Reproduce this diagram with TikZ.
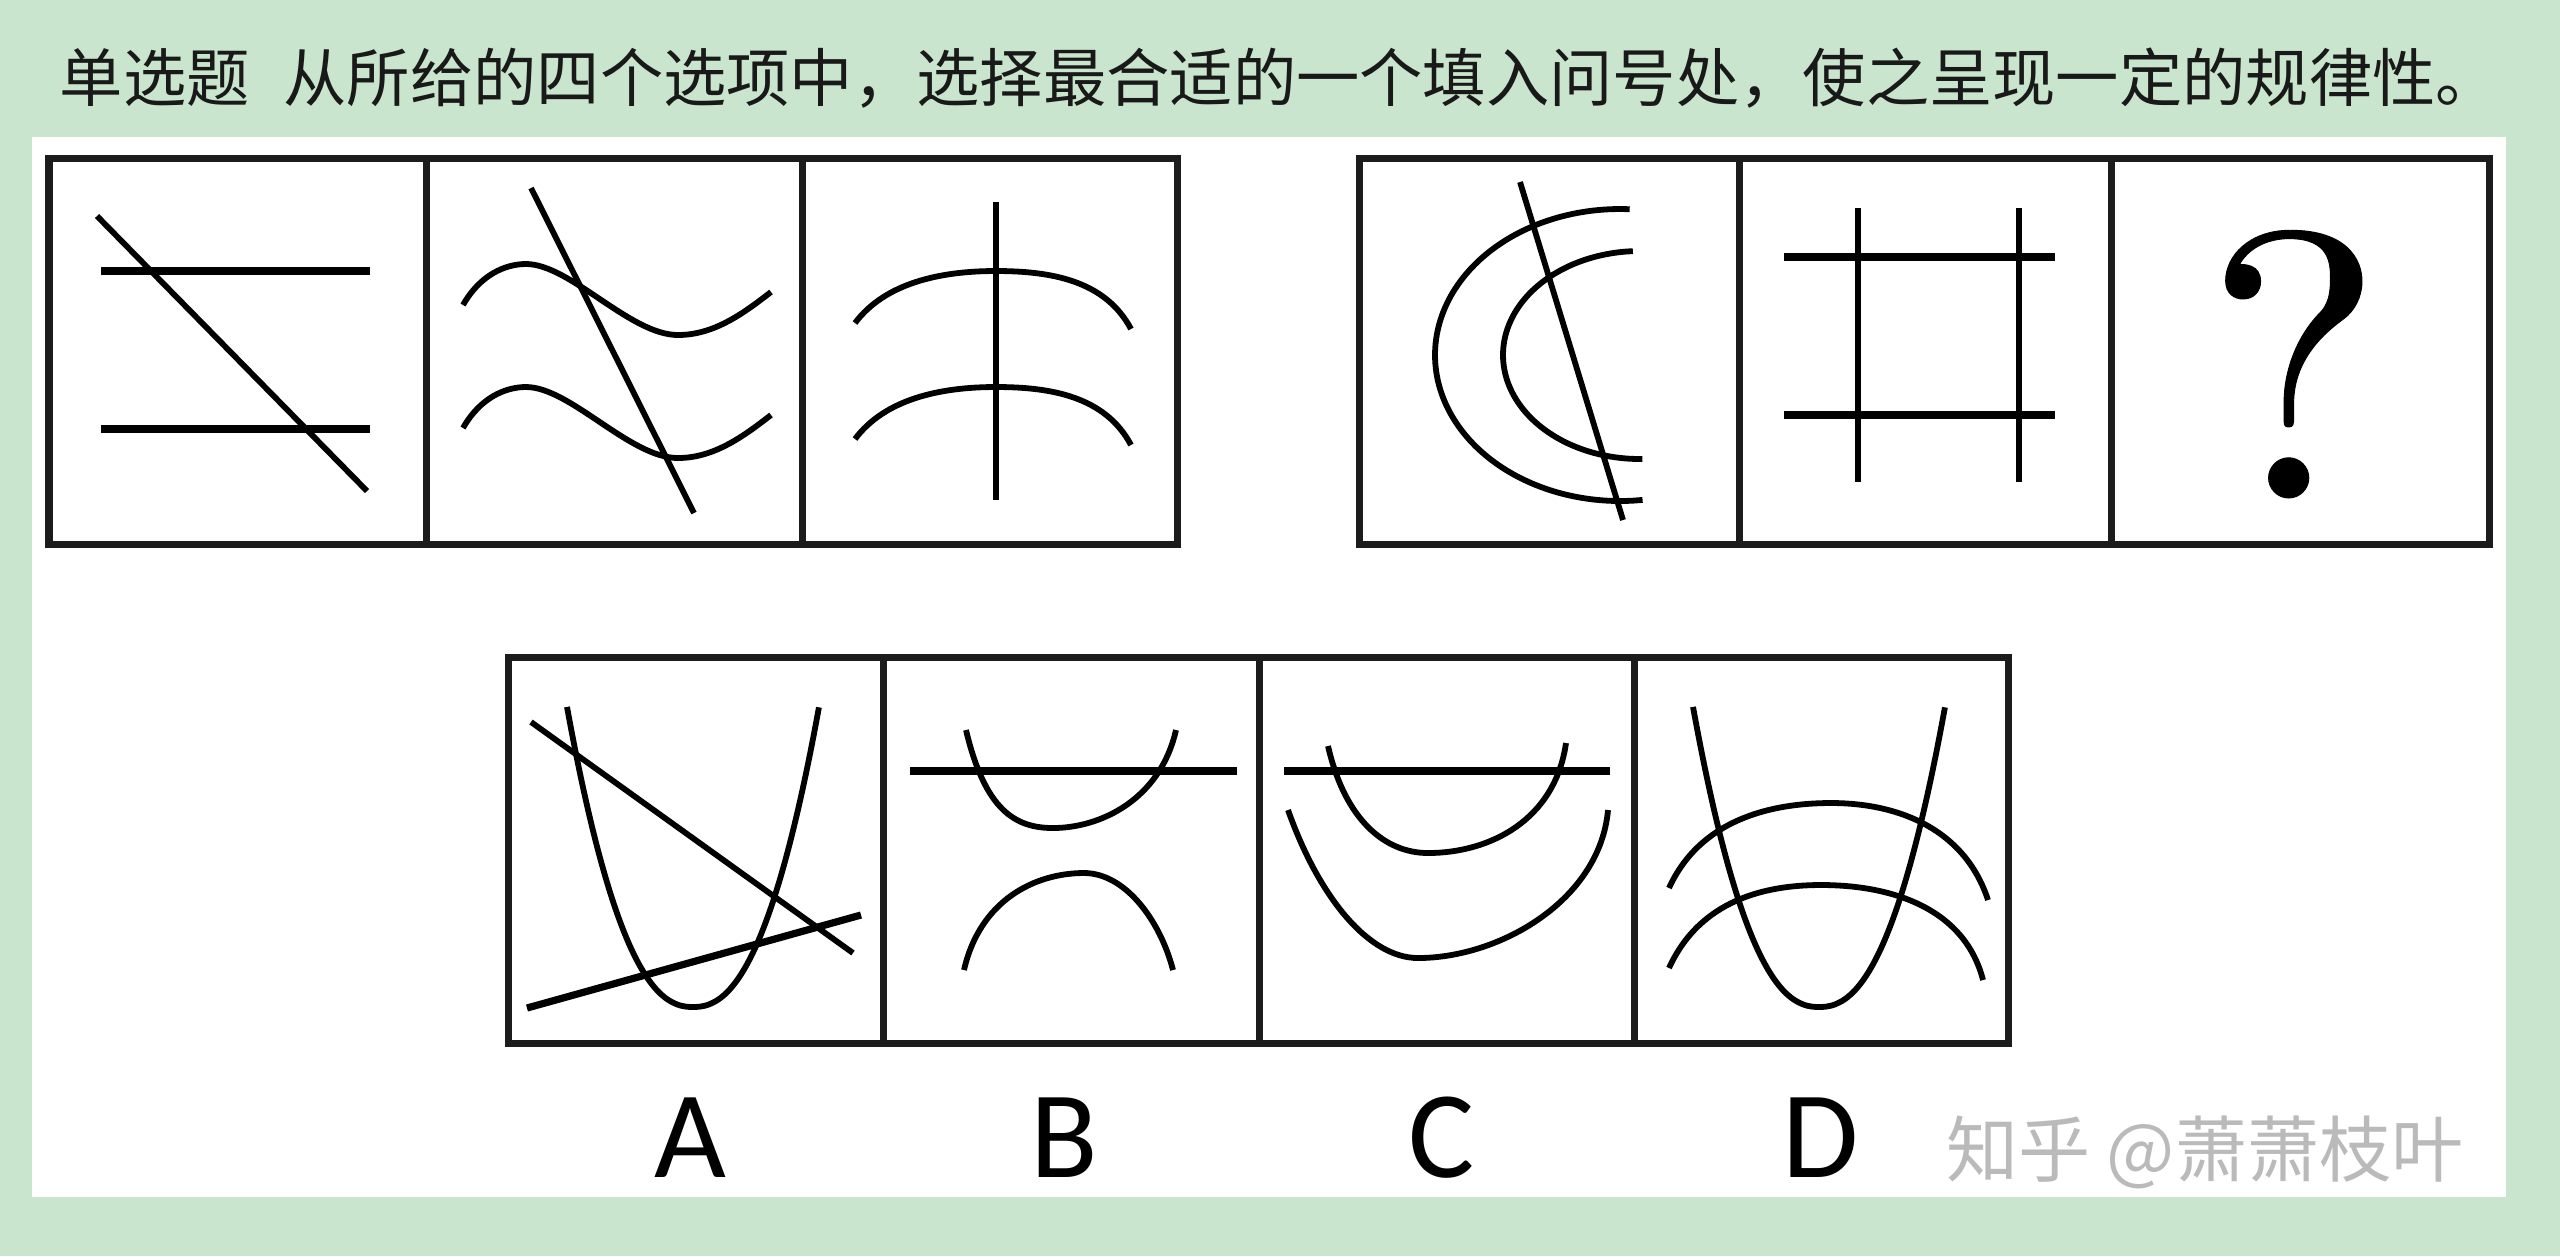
\documentclass[tikz,border=0pt]{standalone}
\usepackage{fontspec}
\newfontfamily\cjkfont{Noto Sans CJK SC}
\newfontfamily\labfont{Carlito}
\newfontfamily\qfont{lmroman10-regular.otf}[FakeBold=0.25]
\definecolor{bggreen}{RGB}{202,229,205}
\definecolor{wmgray}{RGB}{186,186,186}
\definecolor{framec}{RGB}{28,28,28}
\definecolor{titlec}{RGB}{25,25,25}
\begin{document}
\begin{tikzpicture}[x=0.01cm,y=-0.01cm,
  panelframe/.style={draw=framec,line width=0.07cm,line join=miter},
  figline/.style={draw=black,line width=0.058cm},
  figthick/.style={draw=black,line width=0.072cm},
  optlabel/.style={anchor=base,inner sep=0pt,font=\labfont\fontsize{35.3pt}{40pt}\selectfont}]
\useasboundingbox (0,0) rectangle (2560,1256);
\fill[bggreen] (0,0) rectangle (2560,1256);
\fill[white] (32,137) rectangle (2506,1197);

% title
\node[anchor=base west,inner sep=0pt,text=titlec,font=\cjkfont\fontsize{18pt}{20pt}\selectfont] (title) at (59,101)
  {单选题\hspace{0.34cm}从所给的四个选项中，选择最合适的一个填入问号处，使之呈现一定的规律性。};

% ---------- top-left group ----------
\draw[panelframe] (49,158) rectangle (1177,544);
\draw[panelframe] (426,158) -- (426,544);
\draw[panelframe] (802,158) -- (802,544);

% cell 1
\draw[figline] (97,216) -- (367,491);
\draw[figthick] (101,271) -- (370,271);
\draw[figthick] (101,429) -- (370,429);

% cell 2
\draw[figline] (531,188) -- (694,513);
\foreach \dy in {0,123}{
  \draw[figline,shift={(0,\dy)}] (463,305) .. controls (480,275) and (505,264) .. (526,264)
    .. controls (570,264) and (630,335) .. (678,335)
    .. controls (715,335) and (745,312) .. (771,292);
}

% cell 3
\draw[figline] (996,202) -- (996,500);
\foreach \dy in {0,116}{
  \draw[figline,shift={(0,\dy)}] (855,323) .. controls (885,283) and (940,271) .. (996,271)
    .. controls (1050,271) and (1105,280) .. (1131,329);
}

% ---------- top-right group ----------
\draw[panelframe] (1359,158) rectangle (2489,544);
\draw[panelframe] (1739,158) -- (1739,544);
\draw[panelframe] (2111,158) -- (2111,544);

% cell 4
\draw[figline] (1520,182) -- (1623,520);
\draw[figline] plot[domain=87:277,samples=60,smooth,variable=\t] ({1620+185*cos(\t)},{355-146*sin(\t)});
\draw[figline] plot[domain=93:271,samples=60,smooth,variable=\t] ({1640+137*cos(\t)},{355-104*sin(\t)});

% cell 5
\draw[figline] (1858,208) -- (1858,482);
\draw[figline] (2019,208) -- (2019,482);
\draw[figthick] (1784,257) -- (2055,257);
\draw[figthick] (1784,415) -- (2055,415);

% cell 6
\node[anchor=base,inner sep=0pt,font=\qfont\fontsize{108pt}{120pt}\selectfont] (qmark) at (2294,498) {?};

% ---------- bottom group ----------
\draw[panelframe] (508,657) rectangle (2008,1043);
\draw[panelframe] (883,657) -- (883,1043);
\draw[panelframe] (1259,657) -- (1259,1043);
\draw[panelframe] (1634,657) -- (1634,1043);

% A
\draw[figline] (531,722) -- (853,953);
\draw[figthick] (527,1008) -- (861,915);
\draw[figline] plot[domain=-1:1,samples=60,smooth,variable=\s] ({693+126*\s},{1007-300*pow(abs(\s)+0.0001,2.3)});

% B
\draw[figthick] (910,771) -- (1237,771);
\draw[figline] (966,730) .. controls (985,810) and (1015,828) .. (1053,828)
  .. controls (1100,828) and (1160,800) .. (1176,730);
\draw[figline] (964,970) .. controls (980,900) and (1035,873) .. (1084,873)
  .. controls (1125,873) and (1160,920) .. (1173,970);

% C
\draw[figthick] (1284,771) -- (1610,771);
\draw[figline] (1328,746) .. controls (1345,820) and (1385,853) .. (1428,853)
  .. controls (1490,853) and (1555,820) .. (1566,743);
\draw[figline] (1288,810) .. controls (1320,900) and (1370,958) .. (1418,958)
  .. controls (1500,958) and (1600,900) .. (1608,810);

% D
\draw[figline] plot[domain=-1:1,samples=60,smooth,variable=\s] ({1819+126*\s},{1007-300*pow(abs(\s)+0.0001,2.3)});
\draw[figline] (1669,888) .. controls (1700,820) and (1770,803) .. (1831,803)
  .. controls (1900,803) and (1965,830) .. (1988,900);
\draw[figline] (1669,968) .. controls (1700,900) and (1765,885) .. (1821,885)
  .. controls (1895,885) and (1965,910) .. (1983,980);

% labels
\node[optlabel] (labA) at (690,1177) {A};
\node[optlabel] (labB) at (1064,1177) {B};
\node[optlabel] (labC) at (1442,1177) {C};
\node[optlabel] (labD) at (1821,1177) {D};

% watermark
\node[anchor=base west,inner sep=0pt,text=wmgray,font=\cjkfont\fontsize{20.5pt}{24pt}\selectfont] (wm) at (1946,1176) {知乎 @萧萧枝叶};
\end{tikzpicture}
\end{document}
